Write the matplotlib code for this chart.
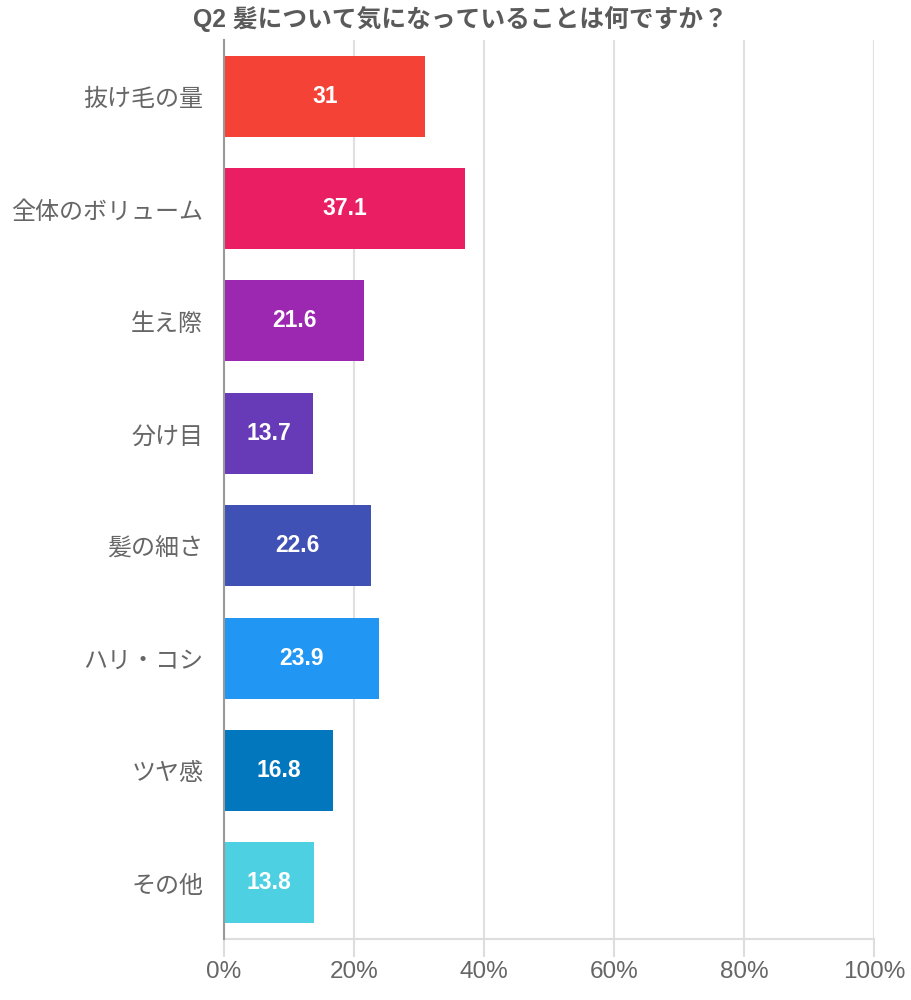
import matplotlib
matplotlib.use("Agg")
import matplotlib.pyplot as plt

categories = ["抜け毛の量", "全体のボリューム", "生え際", "分け目", "髪の細さ", "ハリ・コシ", "ツヤ感", "その他"]
values = [31, 37.1, 21.6, 13.7, 22.6, 23.9, 16.8, 13.8]
value_labels = ["31", "37.1", "21.6", "13.7", "22.6", "23.9", "16.8", "13.8"]
colors = ["#F44336", "#E91E63", "#9C27B0", "#673AB7", "#3F51B5", "#2196F3", "#0277BD", "#4DD0E1"]
xticks = [0, 20, 40, 60, 80, 100]
xtick_labels = ["0%", "20%", "40%", "60%", "80%", "100%"]
title = "Q2 髪について気になっていることは何ですか？"

FAM = ["Liberation Sans", "Noto Sans CJK JP", "DejaVu Sans"]
plt.rcParams["font.family"] = FAM

fig = plt.figure(figsize=(9.12, 10), dpi=100)
ax = fig.add_axes([224/912, 1-939/1000, 650/912, 899/1000])

ypos = list(range(len(categories)))
ax.barh(ypos, values, height=0.72, color=colors, zorder=3)
ax.set_ylim(len(categories)-0.5, -0.5)
ax.set_xlim(0, 100)

for y, v, lab in zip(ypos, values, value_labels):
    ax.text(v/2, y, lab, ha="center", va="center", color="white",
            fontsize=16.5, fontweight="bold", zorder=4)

ax.set_yticks(ypos)
ax.set_yticklabels(categories, fontsize=17.3, color="#666666", family=["Noto Sans CJK JP", "DejaVu Sans"])
ax.tick_params(axis="y", length=0, pad=15)

ax.set_xticks(xticks)
ax.set_xticklabels(xtick_labels, fontsize=17.5, color="#666666")
ax.tick_params(axis="x", direction="out", length=13, width=1.5, color="#dddddd", pad=3)
ax.xaxis.get_major_ticks()[0].tick1line.set_color("#999999")

ax.grid(axis="x", color="#e0e0e0", linewidth=1.5, zorder=0)
ax.set_axisbelow(True)

for s in ["top", "right"]:
    ax.spines[s].set_visible(False)
ax.spines["left"].set_color("#999999")
ax.spines["left"].set_linewidth(1.5)
ax.spines["left"].set_zorder(5)
ax.spines["bottom"].set_color("#dddddd")
ax.spines["bottom"].set_linewidth(1.5)

fig.text(0.505, 0.981, title, ha="center", va="center", fontsize=17.8,
         fontweight="bold", color="#5a5a5a")

fig.savefig("out.png", dpi=100, facecolor="white")
